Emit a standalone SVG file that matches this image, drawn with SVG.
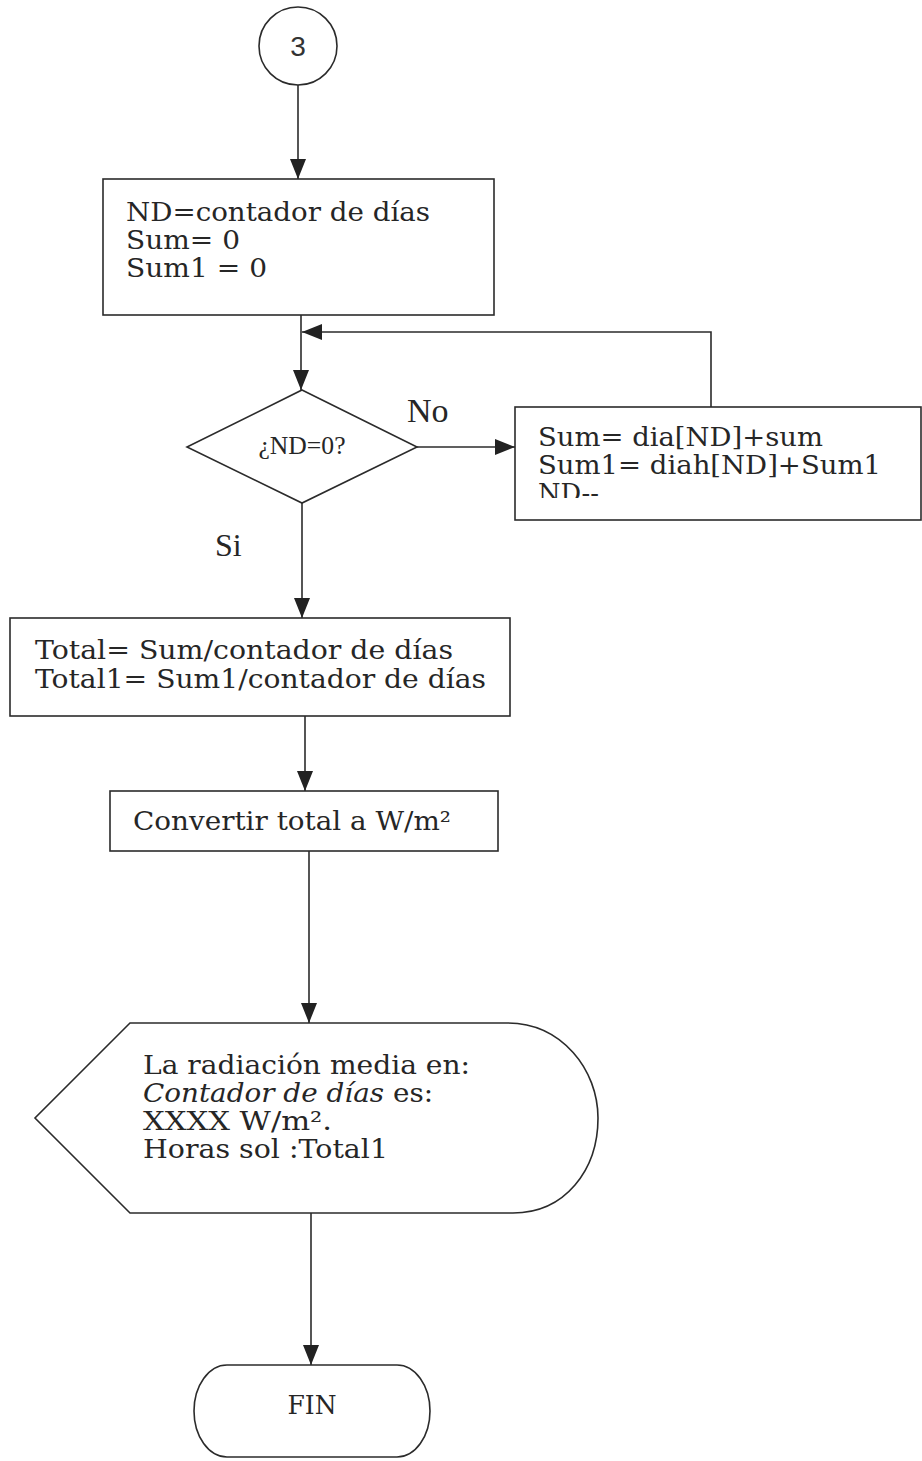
<svg xmlns="http://www.w3.org/2000/svg" width="922" height="1461" viewBox="0 0 922 1461">
  <style>
    .shape { fill: #fff; stroke: #2b2b2b; stroke-width: 1.6; }
    .line { fill: none; stroke: #2b2b2b; stroke-width: 1.6; }
    .t { font-family: "DejaVu Serif", "Liberation Serif", serif; font-size: 26px; fill: #262626; }
    .lbl { font-family: "Liberation Serif", "DejaVu Serif", serif; fill: #262626; }
    .num { font-family: "Liberation Sans", Arial, sans-serif; font-size: 28px; fill: #333; }
  </style>
  <defs>
    <marker id="arrow" markerUnits="userSpaceOnUse" markerWidth="20" markerHeight="16" refX="20" refY="8" orient="auto">
      <path d="M0,0 L20,8 L0,16 Z" fill="#222"/>
    </marker>
    <clipPath id="clipLoop">
      <rect x="515" y="407" width="410" height="91"/>
    </clipPath>
  </defs>

  <rect width="922" height="1461" fill="#fff"/>

  <!-- connectors -->
  <g id="connectors">
    <path class="line" d="M298,85 V179" marker-end="url(#arrow)"/>
    <path class="line" d="M301,315 V390" marker-end="url(#arrow)"/>
    <path class="line" d="M711,407 V332 H302" marker-end="url(#arrow)"/>
    <path class="line" d="M417,447 H515" marker-end="url(#arrow)"/>
    <path class="line" d="M302,503 V618" marker-end="url(#arrow)"/>
    <path class="line" d="M305,716 V791" marker-end="url(#arrow)"/>
    <path class="line" d="M309,851 V1023" marker-end="url(#arrow)"/>
    <path class="line" d="M311,1213 V1365" marker-end="url(#arrow)"/>
    <text class="lbl" x="407" y="422" font-size="34">No</text>
    <text class="lbl" x="215" y="556" font-size="32">Si</text>
  </g>

  <!-- off-page connector 3 -->
  <g id="connector3">
    <circle class="shape" cx="298" cy="46" r="39"/>
    <text class="num" x="298" y="56" text-anchor="middle">3</text>
  </g>

  <!-- initialisation -->
  <g id="init">
    <rect class="shape" x="103" y="179" width="391" height="136"/>
    <text class="t" x="126" y="221" textLength="304" lengthAdjust="spacingAndGlyphs">ND=contador de días</text>
    <text class="t" x="126" y="249" textLength="114" lengthAdjust="spacingAndGlyphs">Sum= 0</text>
    <text class="t" x="126" y="277" textLength="141" lengthAdjust="spacingAndGlyphs">Sum1 = 0</text>
  </g>

  <!-- loop test -->
  <g id="decision">
    <polygon class="shape" points="302,390 417,447 302,503 187,447"/>
    <text class="lbl" x="302" y="454" font-size="26" text-anchor="middle" textLength="87" lengthAdjust="spacingAndGlyphs">¿ND=0?</text>
  </g>

  <!-- accumulation -->
  <g id="accumulate">
    <rect class="shape" x="515" y="407" width="406" height="113"/>
    <g clip-path="url(#clipLoop)">
      <text class="t" x="538" y="446" textLength="285" lengthAdjust="spacingAndGlyphs">Sum= dia[ND]+sum</text>
      <text class="t" x="538" y="474" textLength="343" lengthAdjust="spacingAndGlyphs">Sum1= diah[ND]+Sum1</text>
      <text class="t" x="538" y="502" textLength="61" lengthAdjust="spacingAndGlyphs">ND--</text>
    </g>
  </g>

  <!-- averages -->
  <g id="averages">
    <rect class="shape" x="10" y="618" width="500" height="98"/>
    <text class="t" x="35" y="659" textLength="418" lengthAdjust="spacingAndGlyphs">Total= Sum/contador de días</text>
    <text class="t" x="35" y="688" textLength="451" lengthAdjust="spacingAndGlyphs">Total1= Sum1/contador de días</text>
  </g>

  <!-- unit conversion -->
  <g id="convert">
    <rect class="shape" x="110" y="791" width="388" height="60"/>
    <text class="t" x="133" y="830" textLength="318" lengthAdjust="spacingAndGlyphs">Convertir total a W/m²</text>
  </g>

  <!-- display -->
  <g id="display">
    <path class="shape" d="M130,1023 H507 C562,1023 598,1070 598,1118 C598,1170 565,1213 513,1213 H130 L35,1118 Z"/>
    <text class="t" x="143" y="1074" textLength="327" lengthAdjust="spacingAndGlyphs">La radiación media en:</text>
    <text class="t" y="1102"><tspan x="143" font-style="italic" textLength="241" lengthAdjust="spacingAndGlyphs">Contador de días</tspan><tspan x="393" textLength="40" lengthAdjust="spacingAndGlyphs">es:</tspan></text>
    <text class="t" x="143" y="1130" textLength="189" lengthAdjust="spacingAndGlyphs">XXXX W/m².</text>
    <text class="t" x="143" y="1158" textLength="245" lengthAdjust="spacingAndGlyphs">Horas sol :Total1</text>
  </g>

  <!-- end -->
  <g id="fin">
    <rect class="shape" x="194" y="1365" width="236" height="92" rx="33" ry="46"/>
    <text class="t" x="312" y="1414" text-anchor="middle" textLength="49" lengthAdjust="spacingAndGlyphs">FIN</text>
  </g>
</svg>
